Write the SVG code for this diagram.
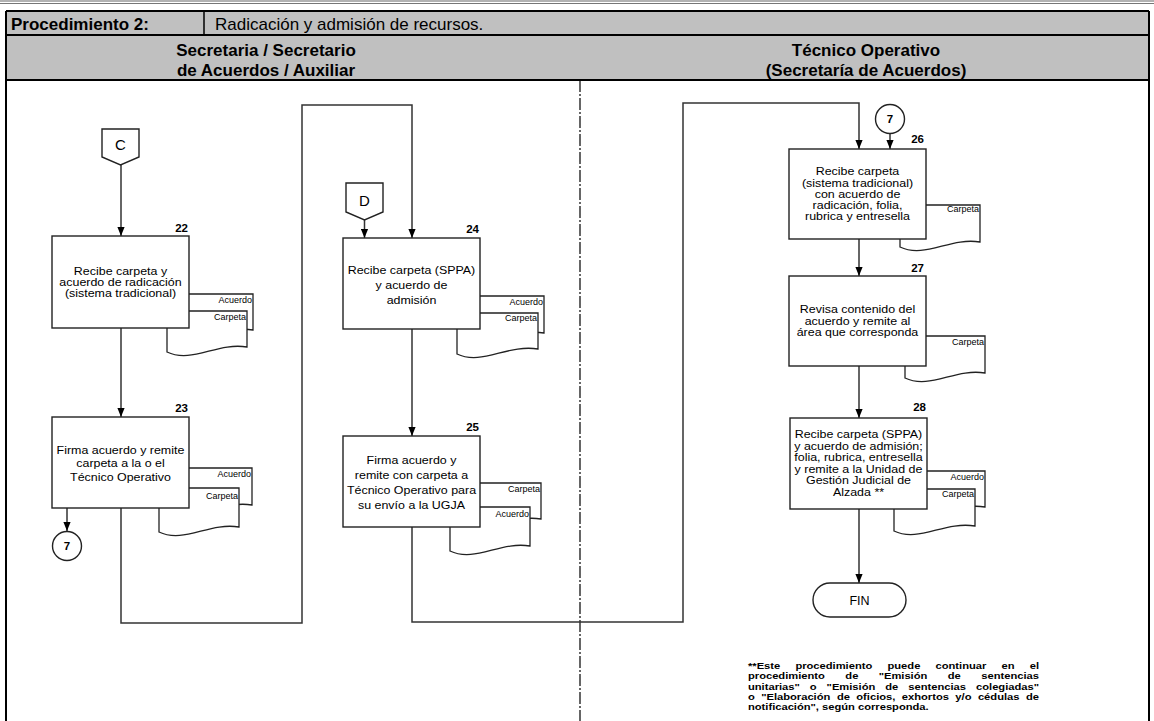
<svg xmlns="http://www.w3.org/2000/svg" width="1154" height="721" viewBox="0 0 1154 721">
  <style>
    .hdr { font-family: "Liberation Sans", Arial, sans-serif; font-size: 17px; fill: #000; }
    .b { font-weight: bold; }
    .box { fill: #fff; stroke: #222; stroke-width: 1.4; }
    .doc { fill: #fff; stroke: #222; stroke-width: 1.3; }
    .txt { font-family: "Liberation Sans", Arial, sans-serif; font-size: 10.2px; fill: #000; text-anchor: middle; }
    .num { font-family: "Liberation Sans", Arial, sans-serif; font-size: 11.5px; font-weight: bold; fill: #000; text-anchor: end; }
    .dl { font-family: "Liberation Sans", Arial, sans-serif; font-size: 9px; fill: #000; text-anchor: end; }
    .con { fill: none; stroke: #333; stroke-width: 1.5; }
    .note { font-family: "Liberation Sans", Arial, sans-serif; font-size: 9.3px; font-weight: bold; fill: #000; }
  </style>
  <defs>
    <marker id="ah" viewBox="0 0 10 8" refX="10" refY="4" markerWidth="9" markerHeight="8" markerUnits="userSpaceOnUse" orient="auto">
      <path d="M0,0 L10,4 L0,8 z" fill="#000"/>
    </marker>
  </defs>

  <rect width="1154" height="721" fill="#fff"/>

  <!-- page rule -->
  <line x1="0" y1="1" x2="1154" y2="1" stroke="#999" stroke-width="1.5"/>
  <line x1="0" y1="3.5" x2="1154" y2="3.5" stroke="#777" stroke-width="1.2"/>

  <!-- header table -->
  <g id="header">
    <rect x="6" y="11" width="1143" height="69" fill="#c0c0c0"/>
    <line x1="6" y1="11" x2="1149" y2="11" stroke="#000" stroke-width="2"/>
    <line x1="6" y1="35" x2="1149" y2="35" stroke="#000" stroke-width="2"/>
    <line x1="6" y1="80" x2="1149" y2="80" stroke="#000" stroke-width="2"/>
    <line x1="204" y1="11" x2="204" y2="35" stroke="#000" stroke-width="1.5"/>
    <text class="hdr b" x="11" y="30">Procedimiento 2:</text>
    <text class="hdr" x="215" y="30">Radicación y admisión de recursos.</text>
    <text class="hdr b" x="266" y="55.5" text-anchor="middle">Secretaria / Secretario</text>
    <text class="hdr b" x="266" y="76" text-anchor="middle">de Acuerdos / Auxiliar</text>
    <text class="hdr b" x="866" y="55.5" text-anchor="middle">Técnico Operativo</text>
    <text class="hdr b" x="866" y="76" text-anchor="middle">(Secretaría de Acuerdos)</text>
  </g>

  <!-- frame and lane divider -->
  <line x1="6" y1="11" x2="6" y2="721" stroke="#000" stroke-width="2"/>
  <line x1="1149" y1="11" x2="1149" y2="721" stroke="#000" stroke-width="2"/>
  <line x1="580" y1="80" x2="580" y2="721" stroke="#000" stroke-width="1.2" stroke-dasharray="12 2 2 2"/>

  <!-- connectors -->
  <g id="connectors">
    <path class="con" d="M121,165 V236" marker-end="url(#ah)"/>
    <path class="con" d="M121,328 V417" marker-end="url(#ah)"/>
    <path class="con" d="M67,508 V531" marker-end="url(#ah)"/>
    <path class="con" d="M121,508 V623 H302 V105 H412 V238" marker-end="url(#ah)"/>
    <path class="con" d="M364.5,220 V238" marker-end="url(#ah)"/>
    <path class="con" d="M412,329 V436" marker-end="url(#ah)"/>
    <path class="con" d="M412,527 V622 H683 V103 H859 V149" marker-end="url(#ah)"/>
    <path class="con" d="M890,133.5 V149" marker-end="url(#ah)"/>
    <path class="con" d="M859,239 V276" marker-end="url(#ah)"/>
    <path class="con" d="M859,366 V418" marker-end="url(#ah)"/>
    <path class="con" d="M859,509 V583" marker-end="url(#ah)"/>
  </g>

  <!-- off-page connector C -->
  <g id="conn-C">
    <polygon class="box" points="102,129 139,129 139,157 120.5,165 102,157"/>
    <text x="120.5" y="150" font-family="Liberation Sans, Arial, sans-serif" font-size="15" text-anchor="middle">C</text>
  </g>

  <!-- off-page connector D -->
  <g id="conn-D">
    <polygon class="box" points="346,183 383,183 383,212 364.5,220 346,212"/>
    <text x="364.5" y="206" font-family="Liberation Sans, Arial, sans-serif" font-size="15" text-anchor="middle">D</text>
  </g>

  <!-- step 22 -->
  <g id="step-22">
    <path class="doc" d="M173,294 H253 V330 C223,325 198,347 173,335 Z"/>
    <text class="dl" x="252" y="303">Acuerdo</text>
    <path class="doc" d="M167,311 H247 V347 C217,342 192,364 167,352 Z"/>
    <text class="dl" x="246" y="320">Carpeta</text>
    <rect class="box" x="52" y="236" width="137" height="92"/>
    <text class="num" x="188" y="232">22</text>
    <g transform="matrix(1.22 0 0 1 -26.51 0)">
      <text class="txt" x="120.5" y="274.5">Recibe carpeta  y</text>
      <text class="txt" x="120.5" y="286">acuerdo de radicación</text>
      <text class="txt" x="120.5" y="297.5">(sistema tradicional)</text>
    </g>
  </g>

  <!-- step 23 -->
  <g id="step-23">
    <path class="doc" d="M172,468 H252 V505 C222,500 197,522 172,510 Z"/>
    <text class="dl" x="251" y="477">Acuerdo</text>
    <path class="doc" d="M159,488 H239 V527 C209,522 184,544 159,532 Z"/>
    <text class="dl" x="238" y="498.5">Carpeta</text>
    <rect class="box" x="52" y="417" width="137" height="91"/>
    <text class="num" x="188" y="412">23</text>
    <g transform="matrix(1.22 0 0 1 -26.51 0)">
      <text class="txt" x="120.5" y="454">Firma acuerdo y remite</text>
      <text class="txt" x="120.5" y="467.5">carpeta a la o el</text>
      <text class="txt" x="120.5" y="481">Técnico Operativo</text>
    </g>
  </g>

  <!-- on-page connector 7 (lane 1) -->
  <g id="conn-7a">
    <circle class="box" cx="67" cy="546" r="14.5"/>
    <text x="67" y="550" font-family="Liberation Sans, Arial, sans-serif" font-size="11.5" font-weight="bold" text-anchor="middle">7</text>
  </g>

  <!-- step 24 -->
  <g id="step-24">
    <path class="doc" d="M464,296 H544 V333 C514,328 489,350 464,338 Z"/>
    <text class="dl" x="543" y="304.5">Acuerdo</text>
    <path class="doc" d="M457,313 H538 V349 C507,344 482,366 457,354 Z"/>
    <text class="dl" x="537" y="320.5">Carpeta</text>
    <rect class="box" x="343" y="238" width="137" height="91"/>
    <text class="num" x="479" y="233">24</text>
    <g transform="matrix(1.22 0 0 1 -90.53 0)">
      <text class="txt" x="411.5" y="274">Recibe carpeta (SPPA)</text>
      <text class="txt" x="411.5" y="289">y acuerdo de</text>
      <text class="txt" x="411.5" y="304">admisión</text>
    </g>
  </g>

  <!-- step 25 -->
  <g id="step-25">
    <path class="doc" d="M461,483 H541 V519 C511,514 486,536 461,524 Z"/>
    <text class="dl" x="540" y="492">Carpeta</text>
    <path class="doc" d="M450,507 H530 V546 C500,541 475,563 450,551 Z"/>
    <text class="dl" x="529" y="517">Acuerdo</text>
    <rect class="box" x="343" y="436" width="137" height="91"/>
    <text class="num" x="479" y="431">25</text>
    <g transform="matrix(1.22 0 0 1 -90.53 0)">
      <text class="txt" x="411.5" y="464">Firma acuerdo y</text>
      <text class="txt" x="411.5" y="479">remite con carpeta a</text>
      <text class="txt" x="411.5" y="494">Técnico Operativo para</text>
      <text class="txt" x="411.5" y="509">su envío a la UGJA</text>
    </g>
  </g>

  <!-- on-page connector 7 (lane 2) -->
  <g id="conn-7b">
    <circle class="box" cx="890" cy="119" r="14.5"/>
    <text x="890" y="123" font-family="Liberation Sans, Arial, sans-serif" font-size="11.5" font-weight="bold" text-anchor="middle">7</text>
  </g>

  <!-- step 26 -->
  <g id="step-26">
    <path class="doc" d="M900,205 H980 V242 C950,237 925,259 900,247 Z"/>
    <text class="dl" x="979" y="212">Carpeta</text>
    <rect class="box" x="789" y="149" width="137" height="90"/>
    <text class="num" x="924" y="143">26</text>
    <g transform="matrix(1.22 0 0 1 -188.65 0)">
      <text class="txt" x="857.5" y="175.5">Recibe carpeta</text>
      <text class="txt" x="857.5" y="186.75">(sistema tradicional)</text>
      <text class="txt" x="857.5" y="198">con acuerdo de</text>
      <text class="txt" x="857.5" y="209.25">radicación, folia,</text>
      <text class="txt" x="857.5" y="220.5">rubrica y entresella</text>
    </g>
  </g>

  <!-- step 27 -->
  <g id="step-27">
    <path class="doc" d="M905,336 H985 V373 C955,368 930,390 905,378 Z"/>
    <text class="dl" x="984" y="344.5">Carpeta</text>
    <rect class="box" x="789" y="276" width="137" height="90"/>
    <text class="num" x="924" y="272">27</text>
    <g transform="matrix(1.22 0 0 1 -188.65 0)">
      <text class="txt" x="857.5" y="313.5">Revisa contenido del</text>
      <text class="txt" x="857.5" y="325">acuerdo y remite al</text>
      <text class="txt" x="857.5" y="336.5">área que corresponda</text>
    </g>
  </g>

  <!-- step 28 -->
  <g id="step-28">
    <path class="doc" d="M905,471 H985 V507 C955,502 930,524 905,512 Z"/>
    <text class="dl" x="984" y="479.5">Acuerdo</text>
    <path class="doc" d="M894,489 H975 V526 C944,521 919,543 894,531 Z"/>
    <text class="dl" x="974" y="497">Carpeta</text>
    <rect class="box" x="790" y="418" width="137" height="91"/>
    <text class="num" x="926" y="411">28</text>
    <g transform="matrix(1.22 0 0 1 -188.87 0)">
      <text class="txt" x="858.5" y="438">Recibe carpeta (SPPA)</text>
      <text class="txt" x="858.5" y="449.6">y acuerdo de admisión;</text>
      <text class="txt" x="858.5" y="461.2">folia, rubrica, entresella</text>
      <text class="txt" x="858.5" y="472.8">y remite a la Unidad de</text>
      <text class="txt" x="858.5" y="484.4">Gestión Judicial de</text>
      <text class="txt" x="858.5" y="496">Alzada **</text>
    </g>
  </g>

  <!-- end terminator -->
  <g id="fin">
    <rect class="box" x="813" y="583" width="93" height="34" rx="17" ry="17"/>
    <text x="859.5" y="604.5" font-family="Liberation Sans, Arial, sans-serif" font-size="12.5" text-anchor="middle">FIN</text>
  </g>

  <!-- footnote, justified word by word, set slightly wide -->
  <g id="footnote" class="note" transform="matrix(1.2 0 0 1 -149.6 0)">
    <text y="669"><tspan x="748">**Este</tspan><tspan x="787.5">procedimiento</tspan><tspan x="864.25">puede</tspan><tspan x="904.25">continuar</tspan><tspan x="959.25">en</tspan><tspan x="990.5" text-anchor="end">el</tspan></text>
    <text y="679.3"><tspan x="748">procedimiento</tspan><tspan x="829.1">de</tspan><tspan x="856.9">"Emisión</tspan><tspan x="914.5">de</tspan><tspan x="990.5" text-anchor="end">sentencias</tspan></text>
    <text y="689.6"><tspan x="748">unitarias"</tspan><tspan x="799.5">o</tspan><tspan x="813.5">"Emisión</tspan><tspan x="862.4">de</tspan><tspan x="881.6">sentencias</tspan><tspan x="990.5" text-anchor="end">colegiadas"</tspan></text>
    <text y="699.9"><tspan x="748">o</tspan><tspan x="759">"Elaboración</tspan><tspan x="822.1">de</tspan><tspan x="838.25">oficios,</tspan><tspan x="876.2">exhortos</tspan><tspan x="920.8">y/o</tspan><tspan x="939.6">cédulas</tspan><tspan x="990.5" text-anchor="end">de</tspan></text>
    <text y="710.2" x="748">notificación", según corresponda.</text>
  </g>
</svg>
